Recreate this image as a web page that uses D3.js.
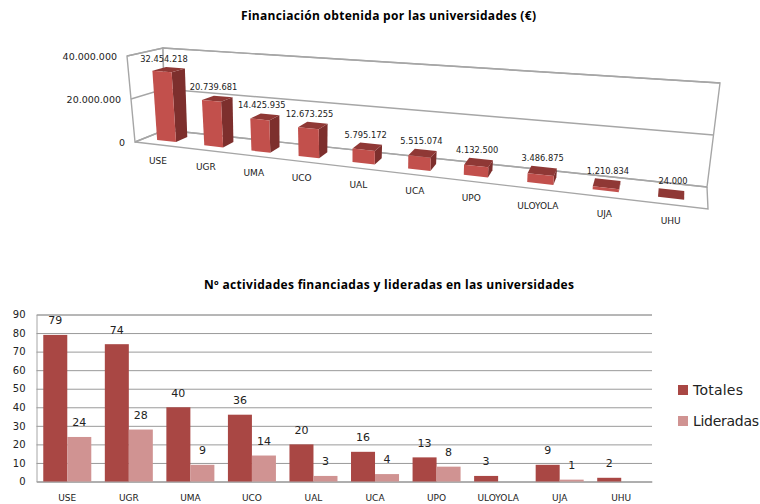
<!DOCTYPE html>
<html>
<head>
<meta charset="utf-8">
<script src="https://cdn.jsdelivr.net/npm/d3@7"></script>
<style>
  html, body { margin: 0; padding: 0; background: #fff; }
  svg { display: block; }
  text { font-family: "DejaVu Sans", sans-serif; fill: #222; }
  .title { font-family: "Open Sans", sans-serif; font-weight: 700; font-size: 12px; fill: #000; }
</style>
</head>
<body>
<div id="app"></div>
<script>
const universidades = ["USE", "UGR", "UMA", "UCO", "UAL", "UCA", "UPO", "ULOYOLA", "UJA", "UHU"];
const financiacion = [32454218, 20739681, 14425935, 12673255, 5795172, 5515074, 4132500, 3486875, 1210834, 24000];
const totales = [79, 74, 40, 36, 20, 16, 13, 3, 9, 2];
const lideradas = [24, 28, 9, 14, 3, 4, 8, null, 1, null];
const series = ["Totales", "Lideradas"];
const ticksFinanciacion = [0, 20000000, 40000000];
const ticksActividades = [0, 10, 20, 30, 40, 50, 60, 70, 80, 90];

const width = 760, height = 504;
const colors = { Totales: "#a94744", Lideradas: "#d09392" };

const euro = d3.formatLocale({ decimal: ",", thousands: ".", grouping: [3], currency: ["", "€"] });
const fmt = euro.format(",d");

const svg = d3.select("#app").append("svg").attr("width", width).attr("height", height);

svg.append("text").attr("class", "title").attr("x", 388.5).attr("y", 20)
    .attr("text-anchor", "middle").attr("textLength", 295).text("Financiación obtenida por las universidades (€)");
svg.append("text").attr("class", "title").attr("x", 389).attr("y", 289)
    .attr("text-anchor", "middle").attr("textLength", 370).text("Nº actividades financiadas y lideradas en las universidades");

// ---- top chart: hand made 3d box, corners of the floor and the up vectors
const floor = { fl: [135, 142], fr: [708, 209], bl: [165, 130], br: [707, 187] };
const up = { fl: [-8, -86], fr: [8, -108], bl: [-2, -82], br: [13, -104] };

const bilinear = (q, u, v) => [0, 1].map(k => {
    const front = q.fl[k] + (q.fr[k] - q.fl[k]) * u;
    const back = q.bl[k] + (q.br[k] - q.bl[k]) * u;
    return front + (back - front) * v;
});

const hScale = d3.scaleLinear().domain([0, 40000000]).range([0, 1]);
// bars get wider to the right, the picture has perspective along x
const uScale = d3.scaleLinear().domain([0, 3, 6, 9]).range([0.04, 0.291, 0.587, 0.935]);

const project = (u, v, value) => {
    const p = bilinear(floor, u, v), w = bilinear(up, u, v), h = hScale(value);
    return [p[0] + w[0] * h, p[1] + w[1] * h];
};

const poly = d3.line();
const box = svg.append("g").attr("fill", "#fff").attr("stroke", "#a6a6a6").attr("stroke-width", 1.4);
const top40 = ticksFinanciacion[ticksFinanciacion.length - 1];

box.append("path").attr("d", poly([project(0, 0, 0), project(0, 0, top40), project(0, 1, top40), project(0, 1, 0)]) + "Z");
box.append("path").attr("d", poly([project(0, 1, 0), project(0, 1, top40), project(1, 1, top40), project(1, 1, 0)]) + "Z");

ticksFinanciacion.forEach(t => {
    box.append("path").attr("fill", "none")
        .attr("d", poly([project(0, 0, t), project(0, 1, t), project(1, 1, t)]));
    svg.append("text").attr("font-size", 9.5).attr("text-anchor", "end").attr("dy", "0.35em")
        .attr("x", project(0, 0, t)[0] - 10).attr("y", project(0, 0, t)[1] + 1)
        .text(t === 0 ? "0" : fmt(t));
});
box.append("path").attr("fill", "none").attr("d", poly([project(0, 0, 0), project(1, 0, 0), project(1, 1, 0)]));

const v0 = 0.3, v1 = 0.7, half = 0.2;
const bars = svg.append("g");
financiacion.forEach((value, i) => {
    const u0 = uScale(i - half), u1 = uScale(i + half), uc = uScale(i);
    const g = bars.append("g");
    g.append("path").attr("fill", "#7d2f2d")
        .attr("d", poly([project(u1, v0, 0), project(u1, v1, 0), project(u1, v1, value), project(u1, v0, value)]) + "Z");
    g.append("path").attr("fill", "#8f3835")
        .attr("d", poly([project(u0, v0, value), project(u1, v0, value), project(u1, v1, value), project(u0, v1, value)]) + "Z");
    g.append("path").attr("fill", "#c2504c")
        .attr("d", poly([project(u0, v0, 0), project(u1, v0, 0), project(u1, v0, value), project(u0, v0, value)]) + "Z");

    svg.append("text").attr("font-size", 8.3).attr("text-anchor", "middle").attr("dy", "0.35em")
        .attr("x", project(uc, v0, value)[0] + 2).attr("y", project(uc, v1, value)[1] - 9).text(fmt(value));
    const cat = project(uc, 0, 0);
    svg.append("text").attr("font-size", 9).attr("text-anchor", "middle").attr("dy", "0.35em")
        .attr("x", cat[0]).attr("y", cat[1] + 16.5).text(universidades[i]);
});

// ---- bottom chart
const margin = { left: 36.5, right: 652, top: 314.5, bottom: 481.5 };
const x = d3.scaleBand().domain(universidades).range([margin.left, margin.right]).paddingInner(0.22).paddingOuter(0.11);
const xSub = d3.scaleBand().domain(series).range([0, x.bandwidth()]);
const y = d3.scaleLinear().domain([0, 90]).range([margin.bottom, margin.top]);

const yAxis = svg.append("g").attr("transform", `translate(${margin.left},0)`)
    .call(d3.axisLeft(y).tickValues(ticksActividades).tickSize(-(margin.right - margin.left)).tickPadding(11));
yAxis.select(".domain").attr("stroke", "#a6a6a6");
yAxis.selectAll(".tick line").attr("stroke", "#9a9a9a").attr("stroke-width", 1);
yAxis.selectAll(".tick text").attr("font-size", 10).attr("font-family", null).attr("fill", "#333");

const xAxis = svg.append("g").attr("transform", `translate(0,${margin.bottom})`)
    .call(d3.axisBottom(x).tickSize(0).tickPadding(13));
xAxis.select(".domain").attr("stroke", "#a6a6a6");
xAxis.selectAll(".tick text").attr("font-size", 9).attr("font-family", null).attr("fill", "#222");

const rows = { Totales: totales, Lideradas: lideradas };
series.forEach(name => {
    const g = svg.append("g");
    const data = universidades.map((u, i) => ({ u, v: rows[name][i] })).filter(d => d.v !== null);
    g.selectAll("rect").data(data).join("rect")
        .attr("x", d => x(d.u) + xSub(name))
        .attr("width", xSub.bandwidth())
        .attr("y", d => y(d.v))
        .attr("height", d => y(0) - y(d.v))
        .attr("fill", colors[name]);
    g.selectAll("text").data(data).join("text")
        .attr("font-size", 11).attr("text-anchor", "middle").attr("dy", "0.35em")
        .attr("x", d => x(d.u) + xSub(name) + xSub.bandwidth() / 2)
        .attr("y", d => y(d.v) - 14.5)
        .text(d => d.v);
});

const legend = svg.append("g");
series.forEach((name, i) => {
    const yPos = 390 + i * 31;
    legend.append("rect").attr("x", 678).attr("y", yPos - 5).attr("width", 10).attr("height", 10).attr("fill", colors[name]);
    legend.append("text").attr("x", 693).attr("y", yPos).attr("dy", "0.35em").attr("font-size", 14)
        .attr("font-family", "Open Sans").attr("textLength", i === 0 ? 50 : 66).text(name);
});
</script>
</body>
</html>
